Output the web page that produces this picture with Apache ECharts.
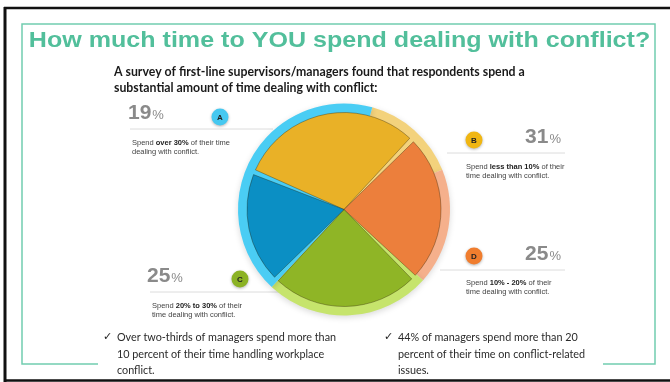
<!DOCTYPE html>
<html><head><meta charset="utf-8">
<script src="https://cdn.jsdelivr.net/npm/echarts@6/dist/echarts.min.js"></script>
<style>html,body{margin:0;padding:0;background:#fff}#c{width:670px;height:382px}</style>
</head><body><div id="c"></div>
<script>
// ---- data (clockwise from the upper-left) ----
const sliceLetters = ['B', 'D', 'C', 'A'];
const sliceShares = [31, 25, 25, 19];
const sliceRanges = ['less than 10%', '10% - 20%', '20% to 30%', 'over 30%'];
const ringShares = [52.5, 63.8, 91.2, 152.5];   // decorative outer ring, clockwise from top
const titleText = 'How much time to YOU spend dealing with conflict?';
const subtitleLines = ['A survey of first-line supervisors/managers found that respondents spend a',
                       'substantial amount of time dealing with conflict:'];
const bulletLeft = ['Over two-thirds of managers spend more than', '10 percent of their time handling workplace', 'conflict.'];
const bulletRight = ['44% of managers spend more than 20', 'percent of their time on conflict-related', 'issues.'];

// ---- styles ----
const sliceColors = ['#e9b127', '#ec7f3c', '#8fb526', '#0b8fc4'];
const ringColors = ['#f3d27c', '#f5b08c', '#c6e46c', '#4acdf4'];
const badgeColors = {A: '#45c8f0', B: '#f0b612', C: '#8bb224', D: '#f07d2e'};
const teal = '#52bf9b';
const frame = '#72cdb0';
const geo = 'Lato, "Noto Sans", sans-serif';
const arial = '"Liberation Sans", Arial, sans-serif';

// label layout per letter
const layout = {
  A: {num: [128, 113, 'left'], badge: [220, 117], line: [130, 273, 129], desc: [132, 138], tpl: 'Spend {b|%s} of their time\ndealing with conflict.'},
  B: {num: [561, 137, 'right'], badge: [474, 140], line: [447, 565, 153], desc: [466, 162], tpl: 'Spend {b|%s} of their\ntime dealing with conflict.'},
  C: {num: [147, 276, 'left'], badge: [240, 279], line: [150, 285, 292], desc: [152, 301], tpl: 'Spend {b|%s} of their\ntime dealing with conflict.'},
  D: {num: [561, 254, 'right'], badge: [474, 256], line: [440, 565, 270], desc: [466, 278], tpl: 'Spend {b|%s} of their\ntime dealing with conflict.'}
};

const chart = echarts.init(document.getElementById('c'));
const graphics = [];
// black outer frame
graphics.push({type: 'line', shape: {x1: 4, y1: 8, x2: 670, y2: 8}, style: {stroke: '#111', lineWidth: 2.5}});
graphics.push({type: 'line', shape: {x1: 5, y1: 7, x2: 5, y2: 382}, style: {stroke: '#111', lineWidth: 3}});
graphics.push({type: 'line', shape: {x1: 4, y1: 380.5, x2: 670, y2: 380.5}, style: {stroke: '#111', lineWidth: 2.5}});
// teal frame
graphics.push({type: 'polyline', shape: {points: [[98, 364], [22, 364], [22, 24], [655, 24], [655, 364], [603, 364]]}, style: {stroke: frame, lineWidth: 1.5, fill: null}});
// title
graphics.push({type: 'text', x: 339.5, y: 41, scaleX: 1.14, style: {text: titleText, font: 'bold 22px ' + arial, fill: teal, align: 'center', verticalAlign: 'middle'}});
subtitleLines.forEach((t, i) => graphics.push({type: 'text', x: 114, y: 72 + i * 16, style: {text: t, font: 'bold 12.3px ' + geo, fill: '#1a1a1a', verticalAlign: 'middle'}}));

sliceLetters.forEach((L, i) => {
  const c = layout[L];
  graphics.push({type: 'line', shape: {x1: c.line[0], y1: c.line[2], x2: c.line[1], y2: c.line[2]}, style: {stroke: '#dcdcdc', lineWidth: 1}, z: 1});
  graphics.push({type: 'text', x: c.num[0], y: c.num[1], style: {
    text: '{n|' + sliceShares[i] + '}{p|%}', align: c.num[2], verticalAlign: 'middle',
    rich: {n: {font: 'bold 21px ' + arial, fill: '#8a8a8a'}, p: {font: '13px ' + arial, fill: '#8a8a8a', padding: [5, 0, 0, 1]}}}});
  graphics.push({type: 'circle', shape: {cx: c.badge[0], cy: c.badge[1], r: 8.5}, style: {fill: badgeColors[L], shadowBlur: 3, shadowColor: 'rgba(0,0,0,0.3)', shadowOffsetY: 1}});
  graphics.push({type: 'text', x: c.badge[0], y: c.badge[1] + 0.5, style: {text: L, font: 'bold 8px ' + arial, fill: '#222', align: 'center', verticalAlign: 'middle'}});
  graphics.push({type: 'text', x: c.desc[0], y: c.desc[1], style: {
    text: c.tpl.replace('%s', sliceRanges[i]), verticalAlign: 'top', font: '7.5px ' + arial, fill: '#444', lineHeight: 9,
    rich: {b: {font: 'bold 7.5px ' + arial, fill: '#222', lineHeight: 9}}}});
});

// bullets
[[103, bulletLeft], [384, bulletRight]].forEach(([x, lines]) => {
  graphics.push({type: 'text', x: x, y: 337, style: {text: '\u2713', font: '11px "DejaVu Sans"', fill: '#222', verticalAlign: 'middle'}});
  lines.forEach((t, i) => graphics.push({type: 'text', x: x + 14, y: 338 + i * 16.5, style: {text: t, font: '10.8px ' + geo, fill: '#2a2a2a', verticalAlign: 'middle'}}));
});

chart.setOption({
  animation: false,
  graphic: graphics,
  series: [
    {type: 'pie', silent: true, center: [344, 209.5], radius: [0, 106], startAngle: 74.5, clockwise: true,
     label: {show: false}, labelLine: {show: false},
     itemStyle: {shadowBlur: 6, shadowColor: 'rgba(0,0,0,0.15)', shadowOffsetY: 2},
     data: ringShares.map((v, i) => ({value: v, itemStyle: {color: ringColors[i]}}))},
    {type: 'pie', silent: true, center: [344, 209.5], radius: [0, 97], startAngle: 157.4, clockwise: true, padAngle: 3,
     label: {show: false}, labelLine: {show: false},
     data: sliceShares.map((v, i) => ({name: sliceLetters[i], value: v, itemStyle: {color: sliceColors[i], borderColor: 'rgba(40,30,0,0.35)', borderWidth: 1}}))}
  ]
});
</script></body></html>
